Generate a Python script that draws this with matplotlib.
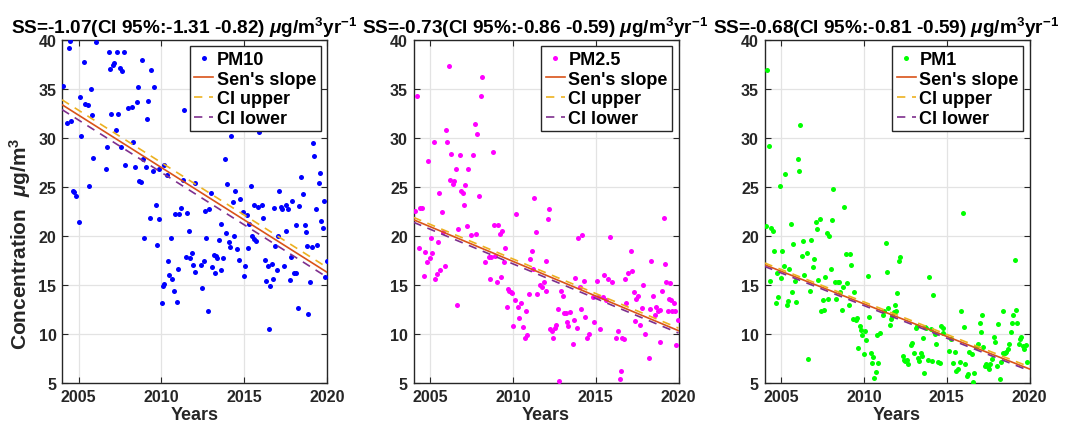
import matplotlib
matplotlib.use('Agg')
import matplotlib.pyplot as plt

plt.rcParams['font.family'] = ['Liberation Sans', 'DejaVu Sans']
plt.rcParams['font.weight'] = 'bold'
plt.rcParams['mathtext.fontset'] = 'custom'
plt.rcParams['mathtext.rm'] = 'Liberation Sans:bold'
plt.rcParams['mathtext.it'] = 'Liberation Sans:italic'
plt.rcParams['mathtext.bf'] = 'Liberation Sans:bold'

# ---- PM10 (year, concentration) ----
pm10_years = [
    2004.06, 2004.30, 2004.40, 2004.46, 2004.56, 2004.67, 2004.73, 2004.83, 2005.01, 2005.07,
    2005.15, 2005.33, 2005.41, 2005.59, 2005.65, 2005.73, 2005.81, 2005.90, 2006.08, 2006.68,
    2006.74, 2006.84, 2006.92, 2006.98, 2007.08, 2007.15, 2007.25, 2007.33, 2007.41, 2007.49,
    2007.55, 2007.65, 2007.75, 2007.81, 2007.97, 2008.25, 2008.31, 2008.42, 2008.50, 2008.58,
    2008.66, 2008.74, 2008.80, 2008.90, 2008.98, 2009.06, 2009.14, 2009.22, 2009.30, 2009.36,
    2009.48, 2009.58, 2009.67, 2009.75, 2009.83, 2009.83, 2010.01, 2010.07, 2010.15, 2010.18,
    2010.31, 2010.41, 2010.49, 2010.57, 2010.67, 2010.75, 2010.81, 2010.92, 2010.98, 2011.08,
    2011.16, 2011.28, 2011.34, 2011.48, 2011.56, 2011.64, 2011.72, 2011.84, 2011.92, 2012.00,
    2012.02, 2012.40, 2012.48, 2012.56, 2012.62, 2012.72, 2012.82, 2012.88, 2013.00, 2013.06,
    2013.16, 2013.21, 2013.29, 2013.37, 2013.49, 2013.57, 2013.63, 2013.73, 2013.83, 2013.91,
    2013.99, 2014.07, 2014.17, 2014.23, 2014.31, 2014.41, 2014.45, 2014.56, 2014.66, 2014.76,
    2014.90, 2014.98, 2015.06, 2015.14, 2015.24, 2015.30, 2015.40, 2015.48, 2015.58, 2015.62,
    2015.70, 2015.84, 2015.91, 2016.07, 2016.15, 2016.23, 2016.33, 2016.41, 2016.47, 2016.55,
    2016.67, 2016.73, 2016.81, 2016.89, 2016.97, 2017.05, 2017.13, 2017.25, 2017.31, 2017.40,
    2017.50, 2017.55, 2017.64, 2017.74, 2017.80, 2017.90, 2018.00, 2018.10, 2018.14, 2018.22,
    2018.30, 2018.46, 2018.56, 2018.66, 2018.72, 2018.81, 2018.88, 2019.00, 2019.07, 2019.15,
    2019.23, 2019.31, 2019.39, 2019.49, 2019.55, 2019.63, 2019.73, 2019.81, 2019.89, 2019.97,
]
pm10_values = [
    35.3, 31.5, 39.2, 39.9, 31.7, 24.6, 24.5, 24.1, 21.4, 34.2,
    30.2, 37.8, 33.5, 33.4, 25.1, 35.0, 32.3, 28.0, 39.8, 26.8,
    29.1, 38.8, 37.0, 32.5, 37.5, 37.7, 30.8, 38.8, 32.4, 37.1,
    29.1, 36.8, 38.8, 27.2, 33.1, 33.2, 29.6, 27.0, 33.7, 35.2,
    25.6, 25.5, 38.0, 27.9, 19.8, 27.0, 31.9, 33.8, 21.8, 36.9,
    26.6, 35.2, 23.2, 19.1, 21.7, 26.8, 13.2, 14.9, 15.1, 27.2,
    26.2, 17.4, 16.0, 19.8, 15.6, 14.4, 22.2, 13.3, 16.6, 22.2,
    22.9, 25.7, 32.9, 17.9, 22.3, 20.5, 17.8, 18.3, 17.0, 16.3,
    25.4, 17.0, 14.7, 17.5, 22.6, 19.8, 12.3, 22.8, 24.4, 16.8,
    18.1, 16.2, 18.0, 17.8, 19.6, 21.2, 16.5, 17.8, 27.9, 20.3,
    25.3, 19.4, 18.9, 30.2, 23.5, 20.0, 24.6, 18.7, 17.6, 23.8,
    22.4, 15.9, 16.9, 22.1, 18.8, 21.2, 25.1, 20.0, 23.2, 19.7,
    19.5, 23.0, 30.6, 23.2, 21.8, 17.6, 15.4, 16.9, 10.5, 14.9,
    17.1, 15.6, 22.9, 19.0, 16.5, 20.0, 24.6, 23.0, 22.8, 16.9,
    23.2, 20.5, 22.8, 15.5, 17.9, 23.6, 16.2, 16.2, 21.1, 12.7,
    23.1, 26.0, 24.3, 21.1, 20.4, 19.0, 12.0, 15.3, 18.9, 29.5,
    28.2, 22.8, 19.1, 25.4, 26.4, 21.5, 20.8, 23.6, 15.8, 17.5,
]

# ---- PM2.5 ----
pm25_years = [
    2004.07, 2004.23, 2004.31, 2004.39, 2004.50, 2004.64, 2004.72, 2004.82, 2004.90, 2004.98,
    2005.06, 2005.14, 2005.22, 2005.30, 2005.40, 2005.48, 2005.56, 2005.63, 2005.73, 2005.81,
    2005.89, 2005.97, 2006.05, 2006.13, 2006.21, 2006.29, 2006.37, 2006.47, 2006.55, 2006.63,
    2006.71, 2006.80, 2006.88, 2006.96, 2007.04, 2007.12, 2007.20, 2007.30, 2007.46, 2007.62,
    2007.70, 2007.78, 2007.86, 2007.95, 2008.05, 2008.13, 2008.29, 2008.55, 2008.63, 2008.69,
    2008.79, 2008.87, 2008.95, 2009.03, 2009.12, 2009.20, 2009.28, 2009.36, 2009.46, 2009.54,
    2009.62, 2009.70, 2009.78, 2009.86, 2009.94, 2009.98, 2010.10, 2010.21, 2010.31, 2010.39,
    2010.47, 2010.61, 2010.71, 2010.79, 2010.87, 2010.95, 2011.05, 2011.13, 2011.21, 2011.30,
    2011.38, 2011.46, 2011.62, 2011.76, 2011.88, 2011.98, 2012.02, 2012.12, 2012.20, 2012.26,
    2012.36, 2012.44, 2012.52, 2012.62, 2012.72, 2012.79, 2012.93, 2013.01, 2013.09, 2013.23,
    2013.29, 2013.35, 2013.47, 2013.63, 2013.71, 2013.77, 2013.87, 2013.93, 2014.05, 2014.13,
    2014.19, 2014.27, 2014.37, 2014.49, 2014.57, 2014.84, 2014.90, 2015.10, 2015.16, 2015.28,
    2015.45, 2015.53, 2015.65, 2015.77, 2015.85, 2016.01, 2016.22, 2016.34, 2016.48, 2016.54,
    2016.60, 2016.72, 2016.78, 2016.84, 2016.98, 2017.13, 2017.19, 2017.29, 2017.37, 2017.43,
    2017.53, 2017.69, 2017.77, 2017.86, 2017.98, 2018.20, 2018.30, 2018.36, 2018.44, 2018.56,
    2018.65, 2018.79, 2018.87, 2018.89, 2019.03, 2019.11, 2019.19, 2019.27, 2019.35, 2019.41,
    2019.51, 2019.53, 2019.59, 2019.71, 2019.79, 2019.87, 2019.95,
]
pm25_values = [
    22.6, 34.3, 18.8, 22.9, 22.9, 15.9, 18.4, 17.3, 27.7, 17.8,
    19.8, 18.3, 29.6, 15.6, 16.1, 19.4, 24.4, 16.5, 22.5, 20.4,
    16.9, 30.8, 29.6, 37.3, 25.7, 28.4, 25.3, 25.6, 26.8, 13.0,
    20.7, 28.3, 24.6, 24.4, 23.2, 25.2, 21.0, 26.8, 20.1, 28.3,
    31.4, 20.2, 30.4, 24.1, 34.3, 36.2, 17.3, 17.9, 15.6, 17.9,
    28.6, 21.1, 18.0, 15.3, 21.1, 20.2, 15.8, 20.5, 17.3, 18.8,
    12.8, 14.6, 14.4, 14.3, 14.2, 10.8, 13.5, 22.2, 12.8, 11.6,
    13.2, 10.7, 9.6, 12.3, 9.9, 14.1, 17.7, 18.5, 16.6, 23.9,
    20.4, 14.1, 15.0, 14.8, 15.3, 14.4, 17.5, 21.7, 22.8, 10.5,
    10.3, 9.6, 10.6, 10.9, 12.6, 5.2, 14.4, 13.9, 12.1, 12.1,
    11.2, 10.8, 12.2, 9.0, 11.4, 15.7, 10.6, 19.8, 14.8, 12.6,
    20.1, 15.4, 11.7, 9.6, 10.0, 13.8, 11.2, 15.4, 13.8, 10.5,
    13.8, 16.0, 13.5, 15.6, 19.9, 15.3, 9.6, 10.3, 5.4, 6.2,
    9.6, 9.5, 15.6, 13.2, 16.2, 18.5, 16.4, 14.3, 11.3, 13.6,
    13.9, 10.9, 12.7, 15.0, 10.0, 7.6, 12.6, 17.5, 13.9, 11.9,
    12.8, 12.3, 9.2, 12.4, 14.4, 21.8, 17.1, 15.3, 12.3, 13.6,
    15.2, 13.5, 12.3, 13.2, 12.3, 8.9, 11.4,
]

# ---- PM1 ----
pm1_years = [
    2004.08, 2004.18, 2004.26, 2004.34, 2004.42, 2004.50, 2004.58, 2004.68, 2004.76, 2004.84,
    2004.92, 2005.00, 2005.08, 2005.16, 2005.24, 2005.34, 2005.42, 2005.50, 2005.58, 2005.66,
    2005.74, 2005.82, 2005.90, 2006.00, 2006.08, 2006.16, 2006.24, 2006.33, 2006.41, 2006.57,
    2006.65, 2006.75, 2006.83, 2006.91, 2006.99, 2007.09, 2007.17, 2007.25, 2007.33, 2007.41,
    2007.51, 2007.59, 2007.67, 2007.75, 2007.83, 2007.91, 2007.99, 2008.07, 2008.15, 2008.25,
    2008.33, 2008.41, 2008.49, 2008.57, 2008.65, 2008.75, 2008.83, 2008.92, 2009.00, 2009.08,
    2009.16, 2009.24, 2009.32, 2009.42, 2009.50, 2009.58, 2009.66, 2009.74, 2009.82, 2009.90,
    2009.98, 2010.06, 2010.14, 2010.22, 2010.32, 2010.40, 2010.48, 2010.56, 2010.64, 2010.72,
    2010.80, 2010.88, 2011.00, 2011.14, 2011.22, 2011.33, 2011.39, 2011.47, 2011.57, 2011.63,
    2011.67, 2011.79, 2011.89, 2011.95, 2012.03, 2012.11, 2012.19, 2012.35, 2012.43, 2012.51,
    2012.59, 2012.67, 2012.83, 2012.93, 2013.03, 2013.15, 2013.23, 2013.27, 2013.35, 2013.43,
    2013.49, 2013.55, 2013.61, 2013.71, 2013.78, 2013.88, 2013.96, 2014.04, 2014.12, 2014.20,
    2014.28, 2014.36, 2014.48, 2014.60, 2014.68, 2014.76, 2014.80, 2015.16, 2015.28, 2015.36,
    2015.48, 2015.58, 2015.68, 2015.78, 2015.86, 2015.96, 2016.02, 2016.12, 2016.22, 2016.29,
    2016.37, 2016.51, 2016.61, 2016.67, 2016.79, 2016.91, 2016.99, 2017.05, 2017.13, 2017.21,
    2017.29, 2017.37, 2017.49, 2017.57, 2017.63, 2017.73, 2017.83, 2017.89, 2018.01, 2018.11,
    2018.21, 2018.29, 2018.37, 2018.43, 2018.53, 2018.61, 2018.69, 2018.78, 2018.86, 2018.94,
    2019.02, 2019.10, 2019.18, 2019.26, 2019.34, 2019.42, 2019.50, 2019.58, 2019.66, 2019.80,
    2019.86,
]
pm1_values = [
    21.0, 36.9, 29.2, 15.4, 20.8, 20.5, 18.5, 13.2, 16.2, 13.8,
    25.1, 15.7, 18.5, 16.9, 26.3, 13.0, 13.4, 16.6, 21.2, 14.3,
    19.2, 15.4, 13.3, 27.9, 26.6, 31.3, 18.0, 19.5, 16.0, 18.3,
    7.4, 14.4, 19.6, 16.8, 17.7, 21.4, 20.7, 15.5, 21.7, 12.3,
    13.5, 12.4, 15.8, 20.3, 13.6, 20.0, 16.6, 21.6, 24.8, 15.3,
    13.6, 15.3, 15.3, 14.3, 12.4, 14.8, 23.0, 18.2, 15.2, 13.0,
    18.2, 17.0, 11.5, 14.3, 11.4, 11.6, 8.6, 10.8, 10.4, 9.9,
    8.0, 10.3, 9.4, 15.9, 11.7, 8.1, 7.0, 7.7, 5.5, 6.1,
    9.9, 7.0, 10.1, 11.9, 12.3, 19.3, 16.3, 12.7, 10.9, 11.5,
    11.8, 12.2, 13.0, 12.3, 14.2, 17.5, 17.9, 7.8, 7.3, 7.2,
    7.3, 6.9, 8.9, 9.1, 8.1, 10.6, 10.8, 7.6, 7.2, 8.1,
    7.8, 9.6, 6.0, 10.7, 10.6, 7.3, 15.8, 10.5, 7.2, 14.0,
    10.0, 9.0, 7.1, 7.0, 10.8, 10.6, 10.1, 8.3, 9.5, 7.0,
    8.2, 6.2, 6.4, 7.1, 12.3, 22.3, 10.7, 6.9, 5.7, 5.9,
    8.2, 8.0, 5.1, 6.0, 8.7, 9.0, 11.1, 10.2, 11.9, 8.7,
    6.7, 6.9, 6.6, 6.4, 6.9, 7.4, 9.7, 9.2, 6.7, 11.0,
    5.4, 7.1, 12.3, 8.1, 8.1, 8.2, 8.5, 9.0, 10.2, 11.1,
    11.9, 17.6, 12.4, 11.1, 9.0, 9.5, 9.7, 8.8, 8.5, 8.9,
    7.1,
]

# trend lines: value at 2004 and at 2020 (Sen's slope, CI upper, CI lower)
line_years = [2004, 2020]
pm10_sen, pm10_up, pm10_low = [33.4, 16.3], [33.9, 16.8], [32.9, 15.8]
pm25_sen, pm25_up, pm25_low = [21.66, 10.34], [21.9, 10.6], [21.4, 10.1]
pm1_sen, pm1_up, pm1_low = [17.07, 6.43], [17.25, 6.65], [16.9, 6.25]

names = ['PM10', 'PM2.5', 'PM1']
dot_colors = ['#0000FF', '#FF00FF', '#00FF00']
titles = [
    r'SS=-1.07(CI 95%:-1.31 -0.82) $\mu$g/m$^{\mathbf{3}}$yr$^{\mathbf{-1}}$',
    r'SS=-0.73(CI 95%:-0.86 -0.59) $\mu$g/m$^{\mathbf{3}}$yr$^{\mathbf{-1}}$',
    r'SS=-0.68(CI 95%:-0.81 -0.59) $\mu$g/m$^{\mathbf{3}}$yr$^{\mathbf{-1}}$',
]
xs = [pm10_years, pm25_years, pm1_years]
ys = [pm10_values, pm25_values, pm1_values]
sens = [pm10_sen, pm25_sen, pm1_sen]
ups = [pm10_up, pm25_up, pm1_up]
lows = [pm10_low, pm25_low, pm1_low]

W, H = 1072, 431
fig = plt.figure(figsize=(W / 100, H / 100), dpi=100)
lefts = [62, 413.5, 764.5]
dark = '#262626'

for i in range(3):
    ax = fig.add_axes([lefts[i] / W, 1 - 384 / H, 265 / W, 343 / H])
    ax.plot(xs[i], ys[i], 'o', color=dot_colors[i], markersize=3.6,
            markeredgewidth=0, label=names[i], zorder=3)
    ax.plot(line_years, sens[i], '-', color='#D95319', lw=1.2, label="Sen's slope", zorder=4)
    ax.plot(line_years, ups[i], '--', color='#EDB120', lw=1.2, dashes=(5, 4),
            label='CI upper', zorder=4)
    ax.plot(line_years, lows[i], '--', color='#7E2F8E', lw=1.2, dashes=(5, 4),
            label='CI lower', zorder=4)

    ax.set_xlim(2004, 2020)
    ax.set_ylim(5, 40)
    ax.set_xticks([2005, 2010, 2015, 2020])
    ax.set_yticks(range(5, 41, 5))
    ax.grid(True, color='#e3e3e3', lw=0.9, zorder=0)
    ax.set_axisbelow(True)
    ax.tick_params(direction='in', length=4, width=0.8, colors=dark,
                   labelsize=11.5, top=True, right=True, pad=4)
    for lab in ax.get_xticklabels() + ax.get_yticklabels():
        lab.set_fontweight('bold')
    for sp in ax.spines.values():
        sp.set_color(dark)
        sp.set_linewidth(1.0)

    ax.set_xlabel('Years', fontsize=13, fontweight='bold', color=dark, labelpad=2)
    if i == 0:
        ax.set_ylabel(r'Concentration  $\mu$g/m$^{\mathbf{3}}$', fontsize=15,
                      fontweight='bold', color=dark, labelpad=4)
        ax.yaxis.set_label_coords(-0.11, 0.41)
    t = ax.set_title(titles[i], fontsize=13.7, fontweight='bold', color='black', pad=5)
    t.set_x(0.46)

    leg = ax.legend(loc='upper right', frameon=True, fancybox=False,
                    framealpha=1, edgecolor=dark, borderpad=0.25, labelspacing=0.15,
                    handlelength=1.05, handletextpad=0.2, borderaxespad=0.35,
                    numpoints=1, prop={'weight': 'bold', 'size': 13})
    leg.get_frame().set_linewidth(1.0)

fig.savefig('out.png', dpi=100)
